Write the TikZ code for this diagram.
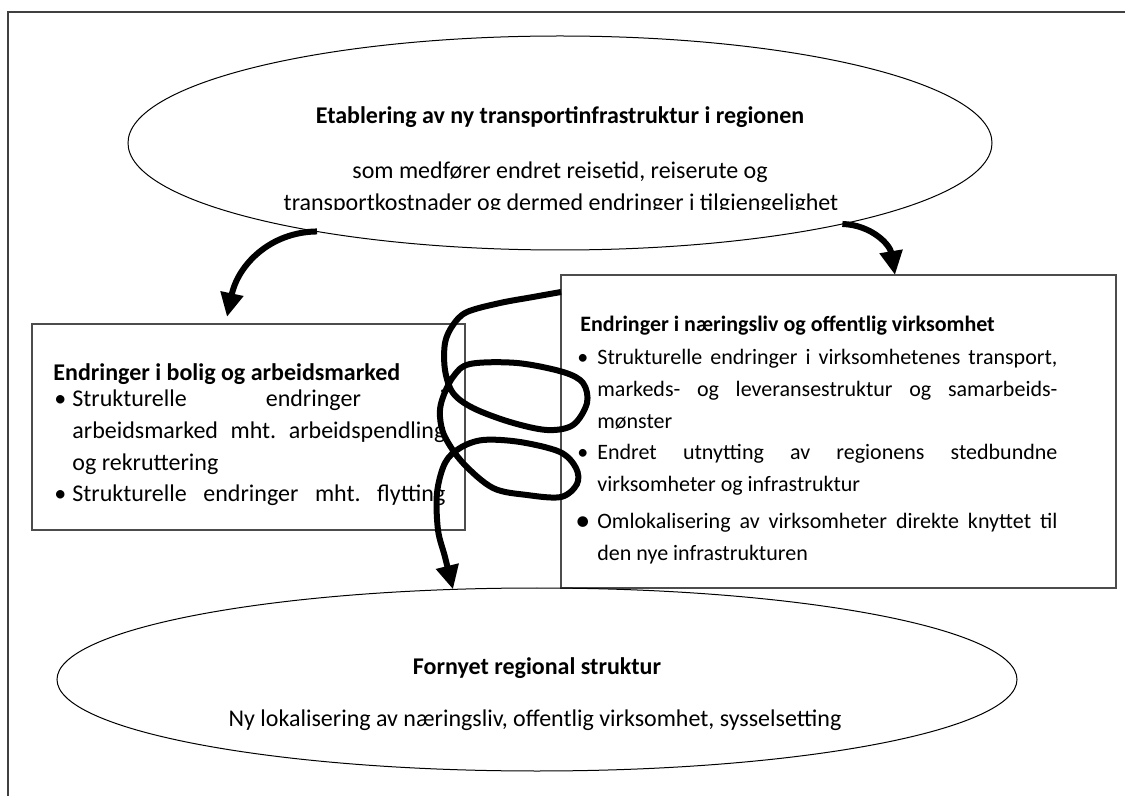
\documentclass[tikz,border=0pt]{standalone}
\usepackage{fontspec}
\setmainfont{Carlito}
\usetikzlibrary{shapes.geometric,arrows.meta}
\frenchspacing
\newcommand{\bulletmark}[1]{\leavevmode\llap{\textbullet\hspace{#1}}}
\newcommand{\bigbulletmark}[1]{\leavevmode\llap{\raisebox{-0.6pt}{\fontsize{15}{15}\selectfont\textbullet}\hspace{#1}}}
\begin{document}
\begin{tikzpicture}[x=0.5pt,y=-0.5pt,>={Triangle[length=12pt,width=11pt]},
  oval/.style={ellipse,draw,line width=0.5pt,inner sep=0pt,outer sep=0pt},
  panel/.style={draw=black!70,line width=0.6pt,inner sep=0pt,outer sep=0pt},
  head/.style={font=\fontsize{11}{15.8}\selectfont\bfseries,inner sep=0pt,anchor=base west},
  body/.style={font=\fontsize{11}{15.8}\selectfont\frenchspacing,inner sep=0pt,anchor=base west,align=justify},
  ovaltxt/.style={font=\fontsize{12}{16}\selectfont,inner sep=0pt,anchor=base},
  flow/.style={->,line width=3pt}]
\useasboundingbox (0,0) rectangle (1125,796);
\draw[black!75,line width=1pt] (8,796) -- (8,12) -- (1125,12);

% ellipse at the top
\node[oval,minimum width=432pt,minimum height=107pt] (infra) at (560,143) {};
\node[ovaltxt,font=\fontsize{12}{16}\selectfont\bfseries] (infratitle) at (560,124) {Etablering av ny transportinfrastruktur i regionen};
\node[ovaltxt] (infraline1) at (560,179) {som medfører endret reisetid, reiserute og};
\begin{scope}
\clip (0,0) rectangle (1125,210);
\node[ovaltxt] (infraline2) at (561,211) {transportkostnader og dermed endringer i tilgjengelighet};
\end{scope}

% the two boxes
\node[panel,minimum width=216.5pt,minimum height=103pt] (bolig) at (248.5,427) {};
\node[head,font=\fontsize{12}{15.8}\selectfont\bfseries] (boligtitle) at (53,381) {Endringer i bolig og arbeidsmarked};
\node[body,font=\fontsize{12}{15.8}\selectfont\frenchspacing,text width=186.5pt] (boligtext) at (72,407) {\bulletmark{3pt}Strukturelle endringer i\linebreak arbeidsmarked mht. arbeidspendling\linebreak og rekruttering\par
{\parfillskip=0pt\bulletmark{3pt}Strukturelle endringer mht. flytting\par}};

\node[panel,minimum width=277.5pt,minimum height=156.5pt] (nb) at (838.5,431.5) {};
\node[head] (nbtitle) at (580,332) {Endringer i næringsliv og offentlig virksomhet};
\node[body,text width=230pt] (nbtext) at (597,365) {\bulletmark{4.5pt}Strukturelle endringer i virksomhetenes transport,\linebreak markeds- og leveransestruktur og samarbeids-\linebreak mønster\par
\bulletmark{4.5pt}Endret utnytting av regionens stedbundne\linebreak virksomheter og infrastruktur\par\vspace{3pt}
\bigbulletmark{3.5pt}Omlokalisering av virksomheter direkte knyttet til\linebreak den nye infrastrukturen};

% ellipse at the bottom
\node[oval,minimum width=480pt,minimum height=91.5pt] (fornyet) at (537,679.5) {};
\node[ovaltxt,font=\fontsize{12}{16}\selectfont\bfseries] (fornyettitle) at (537,674) {Fornyet regional struktur};
\node[ovaltxt] (fornyetline) at (535,726) {Ny lokalisering av næringsliv, offentlig virksomhet, sysselsetting};

% arrows
\draw[flow] (infra.200) .. controls (270,232) and (238,265) .. ([xshift=97.5pt,yshift=3.5pt]bolig.north west);
\draw[flow] (infra.344) .. controls (872,225) and (890,245) .. ([xshift=167pt]nb.north west);
\draw[flow] plot[smooth,tension=0.55] coordinates {([yshift=-8.5pt]nb.north west) (533,297) (500,303) (467,312)
  (453,325) (445,343) (445,370) (453,393) (473,408) (510,422) (547,430) (573,425) (587,403) (583,383)
  (563,372) (517,363) (470,364) (453,377) (442,400) (440,417) (445,437) (463,463) (493,488) (527,495)
  (561,497) (577,484) (576,468) (560,452) (520,442) (483,440) (460,448) (445,463) (437,493) (438,530)
  (445,557) (fornyet.133)};
\end{tikzpicture}
\end{document}
